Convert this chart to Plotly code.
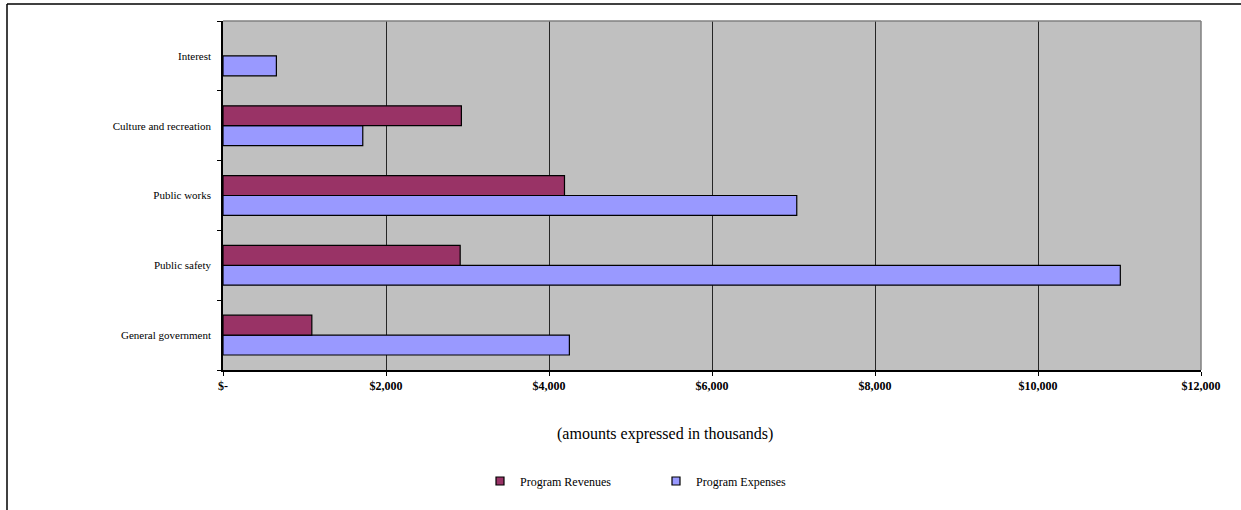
import plotly.graph_objects as go

categories = ["General government", "Public safety", "Public works", "Culture and recreation", "Interest"]
program_revenues = [1090, 2910, 4190, 2925, None]
program_expenses = [4250, 11010, 7040, 1715, 655]
x_tickvals = [0, 2000, 4000, 6000, 8000, 10000, 12000]
x_ticktext = ["$-", "$2,000", "$4,000", "$6,000", "$8,000", "$10,000", "$12,000"]

REV_COLOR = "#993366"
EXP_COLOR = "#9999FF"
FONT = "Liberation Serif"

fig = go.Figure()
# Expenses first so that revenues sit above expenses in each group
fig.add_trace(go.Bar(y=categories, x=program_expenses, orientation="h", name="Program Expenses",
                     marker=dict(color=EXP_COLOR, line=dict(color="black", width=1.2)),
                     showlegend=False))
fig.add_trace(go.Bar(y=categories, x=program_revenues, orientation="h", name="Program Revenues",
                     marker=dict(color=REV_COLOR, line=dict(color="black", width=1.2)),
                     showlegend=False))
# legend entries
for nm, col in [("Program Revenues", REV_COLOR), ("Program Expenses", EXP_COLOR)]:
    fig.add_trace(go.Scatter(x=[None], y=[None], mode="markers", name=nm,
                             marker=dict(symbol="square", size=8, color=col,
                                         line=dict(color="black", width=1.2)),
                             showlegend=True))

L, R, T, B = 223, 40, 21, 140
W, H = 1241, 510
pw = W - L - R
ph = H - T - B

def px2x(px):
    return (px - L) / pw

def py2y(py):
    return (H - B - py) / ph

fig.update_layout(
    width=W, height=H,
    margin=dict(l=L, r=R, t=T, b=B, pad=0),
    paper_bgcolor="white",
    plot_bgcolor="#C0C0C0",
    barmode="group",
    bargap=0.43,
    bargroupgap=0,
    font=dict(family=FONT, color="black"),
    showlegend=True,
    legend=dict(orientation="h", x=px2x(480), xanchor="left", y=py2y(481), yanchor="middle",
                font=dict(family=FONT, size=12, color="black"),
                bgcolor="rgba(0,0,0,0)", entrywidth=131, itemwidth=30, tracegroupgap=0),
    xaxis=dict(range=[0, 12000], tickvals=x_tickvals, ticktext=x_ticktext,
               showgrid=True, gridcolor="#262626", gridwidth=1,
               zeroline=False, showline=True, linecolor="black", linewidth=1.5,
               ticks="outside", ticklen=4, tickcolor="black",
               tickfont=dict(family=FONT, size=12, color="black", weight="bold"),
               fixedrange=True),
    yaxis=dict(type="category", categoryorder="array", categoryarray=categories,
               showgrid=False, zeroline=False, showline=True, linecolor="black", linewidth=1.5,
               ticks="outside", ticklen=4, tickcolor="black", tickson="boundaries",
               ticklabelstandoff=8,
               tickfont=dict(family=FONT, size=11, color="black"),
               fixedrange=True),
    annotations=[dict(text="(amounts expressed in thousands)", xref="paper", yref="paper",
                      x=px2x(665), y=py2y(434), xanchor="center", yanchor="middle",
                      showarrow=False, font=dict(family=FONT, size=16, color="black"))],
    shapes=[
        # gray plot border (top/right)
        dict(type="line", xref="paper", yref="paper", x0=0, x1=1, y0=1, y1=1,
             line=dict(color="#808080", width=1.5), layer="above"),
        dict(type="line", xref="paper", yref="paper", x0=1, x1=1, y0=0, y1=1,
             line=dict(color="#808080", width=1.5), layer="above"),
        # outer chart frame
        dict(type="line", xref="paper", yref="paper", x0=px2x(7), x1=px2x(1245), y0=py2y(4), y1=py2y(4),
             line=dict(color="black", width=1.5)),
        dict(type="line", xref="paper", yref="paper", x0=px2x(7), x1=px2x(7), y0=py2y(4), y1=py2y(515),
             line=dict(color="black", width=1.5)),
    ],
)

fig.write_html("out.html")
